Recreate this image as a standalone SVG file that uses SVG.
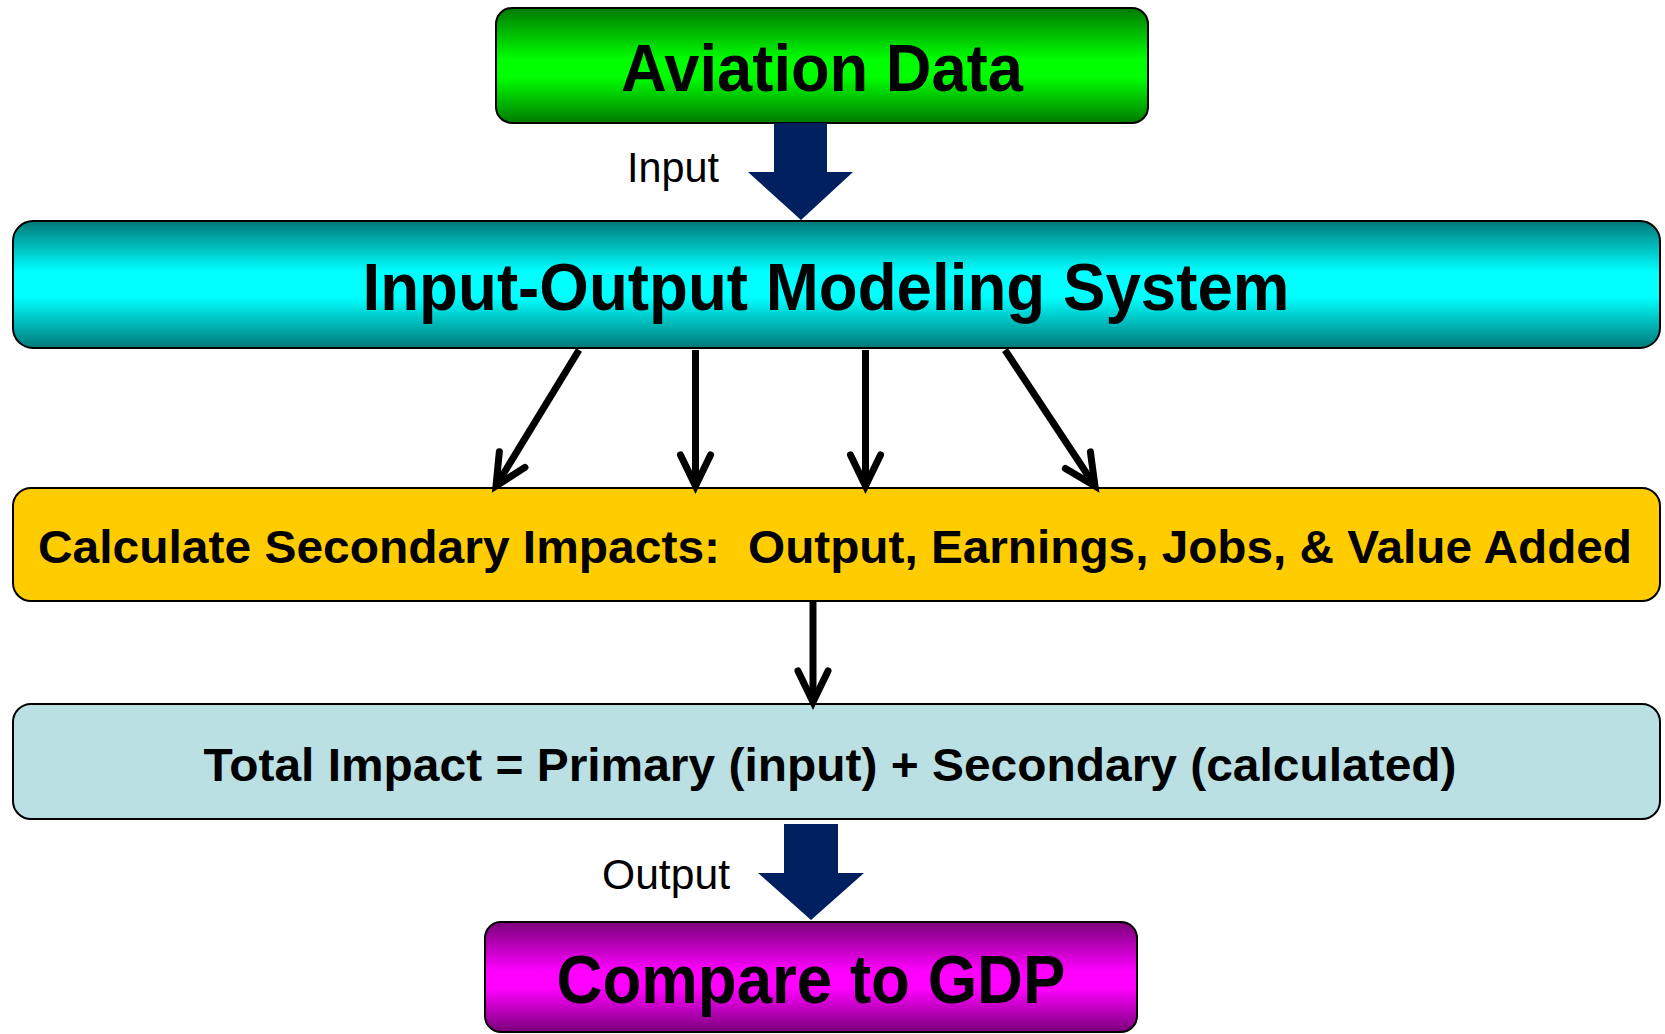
<svg xmlns="http://www.w3.org/2000/svg" width="1665" height="1034" viewBox="0 0 1665 1034">
  <defs>
    <linearGradient id="gGreen" x1="0" y1="0" x2="0" y2="1">
      <stop offset="0" stop-color="#007A00"/>
      <stop offset="0.45" stop-color="#00FF00"/>
      <stop offset="0.6" stop-color="#00FF00"/>
      <stop offset="1" stop-color="#007A00"/>
    </linearGradient>
    <linearGradient id="gCyan" x1="0" y1="0" x2="0" y2="1">
      <stop offset="0" stop-color="#007878"/>
      <stop offset="0.4" stop-color="#00FFFF"/>
      <stop offset="0.6" stop-color="#00FFFF"/>
      <stop offset="1" stop-color="#007878"/>
    </linearGradient>
    <linearGradient id="gMagenta" x1="0" y1="0" x2="0" y2="1">
      <stop offset="0" stop-color="#7A007A"/>
      <stop offset="0.45" stop-color="#FF00FF"/>
      <stop offset="0.6" stop-color="#FF00FF"/>
      <stop offset="1" stop-color="#7A007A"/>
    </linearGradient>
    <marker id="vhead" markerUnits="userSpaceOnUse" markerWidth="40" markerHeight="40" viewBox="-34 -20 40 40" refX="0" refY="0" orient="auto" overflow="visible">
      <path d="M -31 -15 L 0 0 L -31 15" fill="none" stroke="#000" stroke-width="7" stroke-linecap="round" stroke-linejoin="miter"/>
    </marker>
  </defs>
  <style>
    .box { stroke: #000; stroke-width: 2; }
    .big { font-family: "Liberation Sans", Arial, sans-serif; font-weight: bold; fill: #000; }
    .lbl { font-family: "Liberation Sans", Arial, sans-serif; fill: #000; }
    .conn { fill: none; stroke: #000; stroke-width: 7; marker-end: url(#vhead); }
    .block { fill: #002060; }
  </style>

  <g id="node-aviation">
    <rect class="box" x="496" y="8" width="652" height="115" rx="16" fill="url(#gGreen)"/>
    <text class="big" x="822" y="91" font-size="66" text-anchor="middle" textLength="402" lengthAdjust="spacingAndGlyphs">Aviation Data</text>
  </g>

  <g id="node-io">
    <rect class="box" x="13" y="221" width="1647" height="127" rx="20" fill="url(#gCyan)"/>
    <text class="big" x="826" y="310" font-size="66" text-anchor="middle" textLength="927" lengthAdjust="spacingAndGlyphs">Input-Output Modeling System</text>
  </g>

  <g id="node-secondary">
    <rect class="box" x="13" y="488" width="1647" height="113" rx="18" fill="#FFCC00"/>
    <text class="big" x="38" y="563" font-size="46" textLength="682" lengthAdjust="spacingAndGlyphs">Calculate Secondary Impacts:</text>
    <text class="big" x="748" y="563" font-size="46" textLength="884" lengthAdjust="spacingAndGlyphs">Output, Earnings, Jobs, &amp; Value Added</text>
  </g>

  <g id="node-total">
    <rect class="box" x="13" y="704" width="1647" height="115" rx="18" fill="#BBE0E3"/>
    <text class="big" x="830" y="781" font-size="46" text-anchor="middle" textLength="1253" lengthAdjust="spacingAndGlyphs">Total Impact = Primary (input) + Secondary (calculated)</text>
  </g>

  <g id="node-gdp">
    <rect class="box" x="485" y="922" width="652" height="110" rx="16" fill="url(#gMagenta)"/>
    <text class="big" x="811" y="1003" font-size="68" text-anchor="middle" textLength="509" lengthAdjust="spacingAndGlyphs">Compare to GDP</text>
  </g>

  <g id="connectors">
    <polygon class="block" points="774,123 827,123 827,172 853,172 801,220 748,172 774,172"/>
    <text class="lbl" x="719" y="182" font-size="42" text-anchor="end" textLength="92" lengthAdjust="spacingAndGlyphs">Input</text>

    <line class="conn" x1="579" y1="350" x2="496" y2="486"/>
    <line class="conn" x1="695.5" y1="350" x2="695.5" y2="486"/>
    <line class="conn" x1="865.5" y1="350" x2="865.5" y2="486"/>
    <line class="conn" x1="1005" y1="350" x2="1095" y2="486"/>

    <line class="conn" x1="813" y1="602" x2="813" y2="702"/>

    <polygon class="block" points="784,824 838,824 838,873 864,873 811,920 758,873 784,873"/>
    <text class="lbl" x="730" y="889" font-size="42" text-anchor="end" textLength="128" lengthAdjust="spacingAndGlyphs">Output</text>
  </g>
</svg>
